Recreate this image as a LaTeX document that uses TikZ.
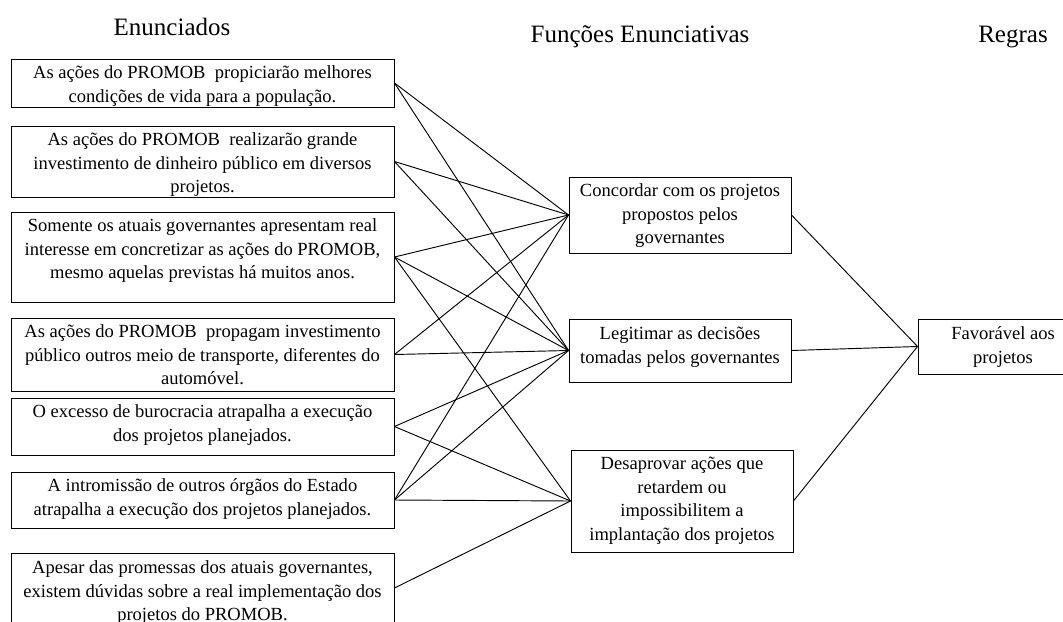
\documentclass[tikz,border=0pt]{standalone}
\usepackage{fontspec}
\setmainfont{Liberation Serif}
\usetikzlibrary{calc}
\newcommand{\boxtext}[2]{\vtop{\hsize=#1\parindent=0pt\centering\fontsize{13.9pt}{17.7pt}\selectfont #2\par}}
\begin{document}
\begin{tikzpicture}[x=0.75pt,y=-0.75pt,
  lbox/.style={draw, line width=0.7pt, inner sep=0pt, minimum width=287.25pt},
  mbox/.style={draw, line width=0.7pt, inner sep=0pt, minimum width=166.5pt},
  txt/.style={inner sep=0pt, anchor=base},
  link/.style={line width=0.7pt},
  title/.style={inner sep=0pt, font=\fontsize{18.75pt}{22pt}\selectfont}]
\useasboundingbox (0,0) rectangle (1063,621);

% titles
\node[title] (h1) at (172,27) {Enunciados};
\node[title] (h2) at (640,37) {Funções Enunciativas};
\node[title] (h3) at (1013,37) {Regras};

% left boxes
\node[lbox, minimum height=36pt]    (e1) at (202.5,83)    {};
\node[lbox, minimum height=53.25pt] (e2) at (202.5,161.5) {};
\node[lbox, minimum height=67.5pt]  (e3) at (202.5,257)   {};
\node[lbox, minimum height=54.75pt] (e4) at (202.5,354.5) {};
\node[lbox, minimum height=42.75pt] (e5) at (202.5,426.5) {};
\node[lbox, minimum height=42pt]    (e6) at (202.5,500)   {};
\node[lbox, minimum height=52.5pt]  (e7) at (202.5,588)   {};

\node[txt] (t1) at ($(e1.north)+(0,20)$) {\boxtext{287pt}{As ações do PROMOB~ propiciarão melhores\\condições de vida para a população.}};
\node[txt] (t2) at ($(e2.north)+(0,20)$) {\boxtext{287pt}{As ações do PROMOB~ realizarão grande\\investimento de dinheiro público em diversos\\projetos.}};
\node[txt] (t3) at ($(e3.north)+(0,20)$) {\boxtext{287pt}{Somente os atuais governantes apresentam real\\interesse em concretizar as ações do PROMOB,\\mesmo aquelas previstas há muitos anos.}};
\node[txt] (t4) at ($(e4.north)+(0,20)$) {\boxtext{287pt}{As ações do PROMOB~ propagam investimento\\público outros meio de transporte, diferentes do\\automóvel.}};
\node[txt] (t5) at ($(e5.north)+(0,20)$) {\boxtext{287pt}{O excesso de burocracia atrapalha a execução\\dos projetos planejados.}};
\node[txt] (t6) at ($(e6.north)+(0,20)$) {\boxtext{287pt}{A intromissão de outros órgãos do Estado\\atrapalha a execução dos projetos planejados.}};
\node[txt] (t7) at ($(e7.north)+(0,21)$) {\boxtext{287pt}{Apesar das promessas dos atuais governantes,\\existem dúvidas sobre a real implementação dos\\projetos do PROMOB.}};

% middle boxes
\node[mbox, minimum height=57pt]    (fa) at (680,215)   {};
\node[mbox, minimum height=47.25pt] (fb) at (680,350.5) {};
\node[mbox, minimum height=76.5pt]  (fc) at (682,501)   {};
\node[txt] (ta) at ($(fa.north)+(0,20)$) {\boxtext{166pt}{Concordar com os projetos\\propostos pelos\\governantes}};
\node[txt] (tb) at ($(fb.north)+(0,21)$) {\boxtext{166pt}{Legitimar as decisões\\tomadas pelos governantes}};
\node[txt] (tc) at ($(fc.north)+(0,20)$) {\boxtext{166pt}{Desaprovar ações que\\retardem ou\\impossibilitem a\\implantação dos projetos}};

% right box
\node[draw, line width=0.7pt, inner sep=0pt, minimum width=127.5pt, minimum height=41.25pt] (r) at (1003,346.5) {};
\node[txt] (tr) at ($(r.north)+(0,21)$) {\boxtext{127pt}{Favorável aos\\projetos}};

% connectors
\foreach \s/\t in {e1/fa, e1/fb, e2/fa, e2/fb, e3/fa, e3/fb, e3/fc, e4/fa, e4/fb, e5/fb, e5/fc, e6/fa, e6/fb, e6/fc, e7/fc}
  \draw[link] (\s.east) -- (\t.west);
\foreach \s in {fa,fb,fc}
  \draw[link] (\s.east) -- (r.west);
\end{tikzpicture}
\end{document}
